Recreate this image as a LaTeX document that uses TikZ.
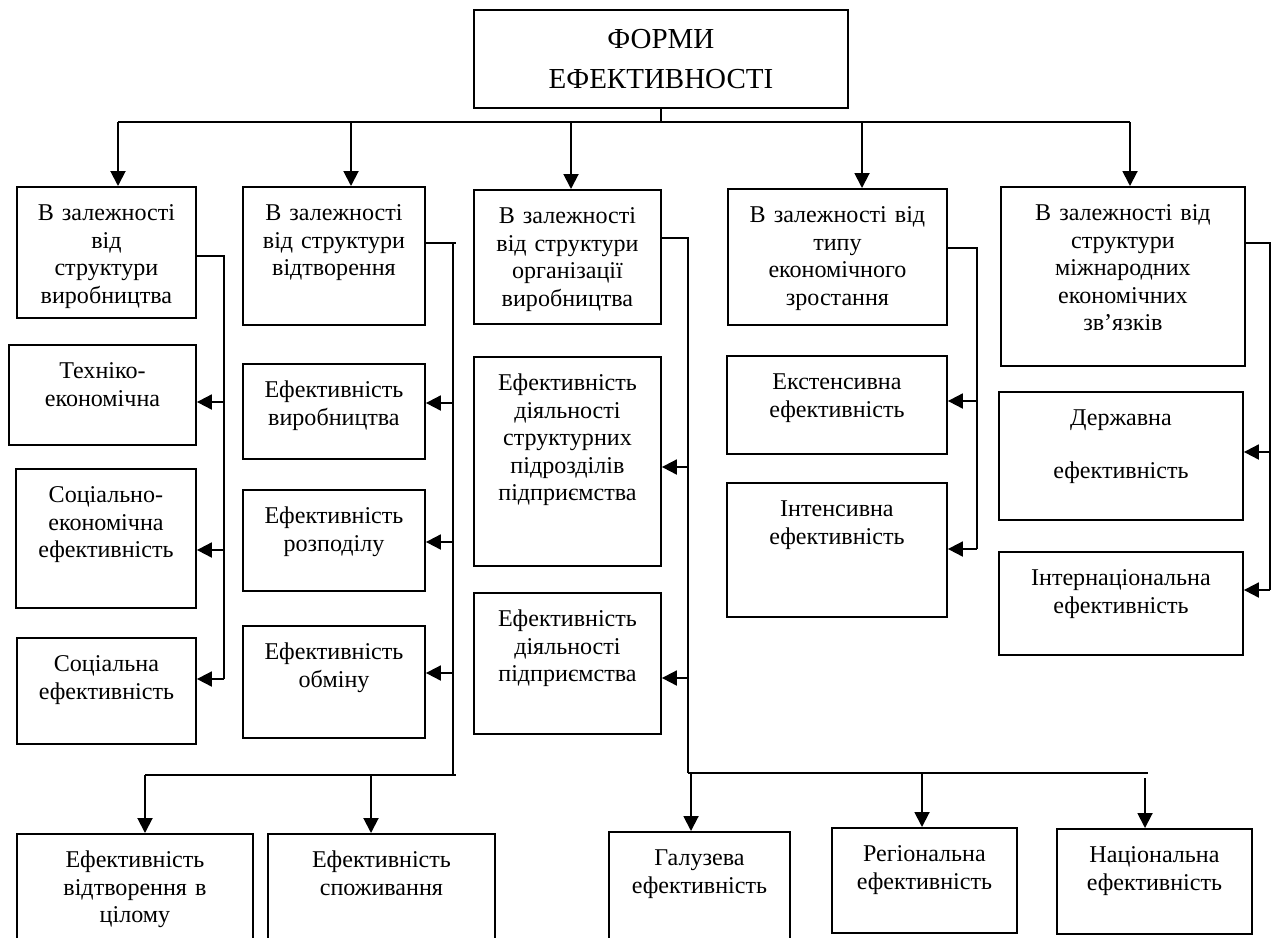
\documentclass[tikz,border=0pt]{standalone}
\usepackage{fontspec}
\setmainfont{Liberation Serif}
\usetikzlibrary{arrows.meta}

\begin{document}
\begin{tikzpicture}[x=0.02cm, y=-0.02cm, line width=1.1pt,
  cell/.style={draw, anchor=north west, align=center, inner sep=0pt,
               text height=0.68cm, font=\fontsize{13.7pt}{15.6pt}\selectfont},
  head/.style={draw, anchor=north west, align=center, inner sep=0pt,
               font=\fontsize{16.5pt}{22.8pt}\selectfont},
  arr/.style={-{Triangle[length=0.3cm, width=0.3cm]}}]
  \useasboundingbox (0,0) rectangle (1277,937);

  % Root
  \node[head, text width=7.48cm, minimum height=1.96cm] (root) at (473,9) {ФОРМИ\\ЕФЕКТИВНОСТІ};

  % First level
  \node[cell, text width=3.58cm, text depth=1.94cm] (bystruct) at (16,186) {В залежності\\від\\структури\\виробництва};
  \node[cell, text width=3.64cm, text depth=2.08cm] (byrepro) at (242,186) {В залежності\\від структури\\відтворення};
  \node[cell, text width=3.74cm, text depth=2.00cm] (byorg) at (473,189) {В залежності\\від структури\\організації\\виробництва};
  \node[cell, text width=4.38cm, text depth=2.04cm] (bygrowth) at (727,188) {В залежності від\\типу\\економічного\\зростання};
  \node[cell, text width=4.88cm, text depth=2.90cm] (byintl) at (1000,186) {В залежності від\\структури\\міжнародних\\економічних\\зв’язків};

  % Production structure
  \node[cell, text width=3.74cm, text depth=1.32cm] (techec) at (8,344) {Техніко-\\економічна};
  \node[cell, text width=3.60cm, text depth=2.10cm] (socec) at (15,468) {Соціально-\\економічна\\ефективність};
  \node[cell, text width=3.58cm, text depth=1.44cm] (social) at (16,637) {Соціальна\\ефективність};

  % Reproduction
  \node[cell, text width=3.64cm, text depth=1.22cm] (prodeff) at (242,363) {Ефективність\\виробництва};
  \node[cell, text width=3.64cm, text depth=1.34cm] (distreff) at (242,489) {Ефективність\\розподілу};
  \node[cell, text width=3.64cm, text depth=1.56cm] (excheff) at (242,625) {Ефективність\\обміну};
  \node[cell, text width=4.72cm, text depth=1.86cm] (wholeeff) at (16,833) {Ефективність\\відтворення в\\цілому};
  \node[cell, text width=4.54cm, text depth=1.86cm] (conseff) at (267,833) {Ефективність\\споживання};

  % Organisation of production
  \node[cell, text width=3.74cm, text depth=3.50cm] (uniteff) at (473,356) {Ефективність\\діяльності\\структурних\\підрозділів\\підприємства};
  \node[cell, text width=3.74cm, text depth=2.14cm] (firmeff) at (473,592) {Ефективність\\діяльності\\підприємства};
  \node[cell, text width=3.62cm, text depth=1.90cm] (branch) at (608,831) {Галузева\\ефективність};
  \node[cell, text width=3.70cm, text depth=1.42cm] (region) at (831,827) {Регіональна\\ефективність};
  \node[cell, text width=3.90cm, text depth=1.42cm] (nation) at (1056,828) {Національна\\ефективність};

  % Economic growth
  \node[cell, text width=4.40cm, text depth=1.28cm] (extens) at (726,355) {Екстенсивна\\ефективність};
  \node[cell, text width=4.40cm, text depth=2.00cm] (intens) at (726,482) {Інтенсивна\\ефективність};

  % International links
  \node[cell, text width=4.88cm, text depth=1.88cm] (state) at (998,391) {Державна\\[0.51cm]ефективність};
  \node[cell, text width=4.88cm, text depth=1.38cm] (internat) at (998,551) {Інтернаціональна\\ефективність};

  % Top bus
  \coordinate (jA) at (118,122);
  \coordinate (jB) at (351,122);
  \coordinate (jC) at (571,122);
  \coordinate (jD) at (862,122);
  \coordinate (jE) at (1130,122);
  \draw (root.south) -- (root.south |- jA);
  \draw (jA) -- (jE);
  \draw[arr] (jA) -- (jA |- bystruct.north);
  \draw[arr] (jB) -- (jB |- byrepro.north);
  \draw[arr] (jC) -- (jC |- byorg.north);
  \draw[arr] (jD) -- (jD |- bygrowth.north);
  \draw[arr] (jE) -- (jE |- byintl.north);

  % Production structure branch
  \coordinate (sA) at (224,256);
  \draw (sA -| bystruct.east) -- (sA) -- (224,679);
  \draw[arr] (224,402) -- (techec.east |- 0,402);
  \draw[arr] (224,550) -- (socec.east |- 0,550);
  \draw[arr] (224,679) -- (social.east |- 0,679);

  % Reproduction branch
  \coordinate (sB) at (453,243);
  \draw (sB -| byrepro.east) -- (456,243);
  \draw (sB) -- (453,775);
  \draw[arr] (453,403) -- (prodeff.east |- 0,403);
  \draw[arr] (453,542) -- (distreff.east |- 0,542);
  \draw[arr] (453,673) -- (excheff.east |- 0,673);
  \coordinate (bB) at (145,775);
  \draw (bB) -- (456,775);
  \draw[arr] (bB) -- (bB |- wholeeff.north);
  \draw[arr] (371,775) -- (371,0 |- conseff.north);

  % Organisation branch
  \coordinate (sC) at (688,238);
  \draw (sC -| byorg.east) -- (sC) -- (688,773);
  \draw[arr] (688,467) -- (uniteff.east |- 0,467);
  \draw[arr] (688,678) -- (firmeff.east |- 0,678);
  \coordinate (bC) at (691,773);
  \draw (688,773) -- (1148,773);
  \draw[arr] (bC) -- (bC |- branch.north);
  \draw[arr] (922,773) -- (922,0 |- region.north);
  \draw[arr] (1145,778) -- (1145,0 |- nation.north);

  % Growth branch
  \coordinate (sD) at (977,248);
  \draw (sD -| bygrowth.east) -- (sD) -- (977,549);
  \draw[arr] (977,401) -- (extens.east |- 0,401);
  \draw[arr] (977,549) -- (intens.east |- 0,549);

  % International branch
  \coordinate (sE) at (1270,243);
  \draw (sE -| byintl.east) -- (sE) -- (1270,590);
  \draw[arr] (1270,452) -- (state.east |- 0,452);
  \draw[arr] (1270,590) -- (internat.east |- 0,590);
\end{tikzpicture}
\end{document}
